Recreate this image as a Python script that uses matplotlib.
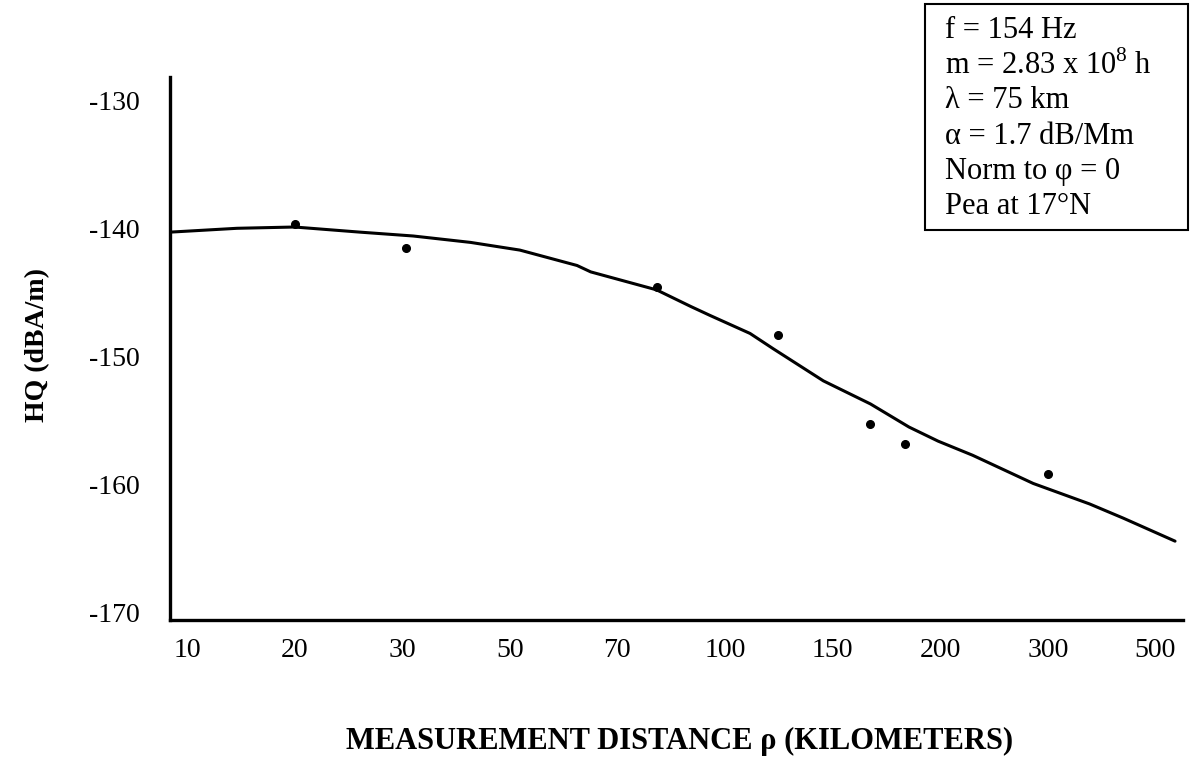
import numpy as np
import matplotlib
matplotlib.use("Agg")
import matplotlib.pyplot as plt
from matplotlib.patches import Rectangle

plt.rcParams['font.family'] = ['Liberation Serif', 'DejaVu Serif']
plt.rcParams['mathtext.fontset'] = 'custom'
plt.rcParams['mathtext.rm'] = 'Liberation Serif'

# tick values on the distance axis (drawn evenly spaced)
tick_km = [10, 20, 30, 50, 70, 100, 150, 200, 300, 500]
y_ticks = [-130, -140, -150, -160, -170]

# measured points
meas_km = [20, 30.6, 79.7, 122, 166, 182, 300]
meas_hq = [-139.7, -141.5, -144.6, -148.3, -155.3, -156.8, -159.2]

# fitted curve
fit_km = [8.96, 13.8, 20, 25.6, 31.6, 41.5, 51.6, 61.7, 64.4, 79.7, 89.3, 95.2,
          109.9, 120, 144.9, 166, 184, 198.9, 226, 284, 366, 429, 549]
fit_hq = [-140.3, -140.0, -139.9, -140.3, -140.6, -141.1, -141.7, -142.9, -143.4,
          -144.8, -146.1, -146.8, -148.2, -149.4, -151.9, -153.7, -155.5, -156.6,
          -157.7, -159.9, -161.5, -162.6, -164.4]

box_lines = ["f = 154 Hz",
             "m = 2.83 x 10$^{8}$ h",
             "\u03bb = 75 km",
             "\u03b1 = 1.7 dB/Mm",
             "Norm to \u03c6 = 0",
             "Pea at 17\u00b0N"]

# piecewise-log scale: each labelled value sits one step further along
lt = np.log10(tick_km)
lx = np.concatenate([[lt[0] - (lt[1] - lt[0])], lt, [lt[-1] + (lt[-1] - lt[-2])]])
ix = np.arange(-1, len(tick_km) + 1, dtype=float)


def fwd(x):
    x = np.clip(np.asarray(x, dtype=float), 1e-6, None)
    return np.interp(np.log10(x), lx, ix)


def inv(p):
    return 10 ** np.interp(np.asarray(p, dtype=float), ix, lx)


W, H = 1191, 762
fig = plt.figure(figsize=(W / 100, H / 100), dpi=100)
ax = fig.add_axes([170 / W, 1 - 620 / H, (1183 - 170) / W, (620 - 77) / H])
ax.set_xscale('function', functions=(fwd, inv))

ax.plot(fit_km, fit_hq, color='black', lw=2.2, solid_capstyle='round',
        solid_joinstyle='round')
ax.plot(meas_km, meas_hq, 'o', color='black', ms=5.5)

ax.set_xlim(inv(-0.158), inv(9.257))
ax.set_ylim(-170.55, -128.2)
ax.set_xticks(tick_km)
ax.set_xticklabels([str(t) for t in tick_km])
ax.set_xticks([], minor=True)
ax.set_yticks(y_ticks)
ax.set_yticklabels([str(t) for t in y_ticks])
ax.tick_params(axis='both', length=0, labelsize=20)
ax.tick_params(axis='y', pad=22)
ax.tick_params(axis='x', pad=13)

for s in ['top', 'right']:
    ax.spines[s].set_visible(False)
for s in ['left', 'bottom']:
    ax.spines[s].set_linewidth(2.4)

fig.text(680 / W, 1 - 741 / H, "MEASUREMENT DISTANCE \u03c1 (KILOMETERS)",
         ha='center', va='center', fontsize=22, fontweight='bold')
fig.text(38 / W, 1 - 345 / H, "HQ (dBA/m)", rotation=90,
         ha='center', va='center', fontsize=20, fontweight='bold')

# parameter box in the top right corner
fig.patches.append(Rectangle((925 / W, 1 - 230 / H), (1188 - 925) / W, (230 - 4) / H,
                             transform=fig.transFigure, fill=False,
                             edgecolor='black', lw=1.5))
for i, line in enumerate(box_lines):
    fig.text(945 / W, 1 - (31 + i * 35) / H, line, ha='left', va='center',
             fontsize=22)

fig.savefig("out.png", dpi=100)
